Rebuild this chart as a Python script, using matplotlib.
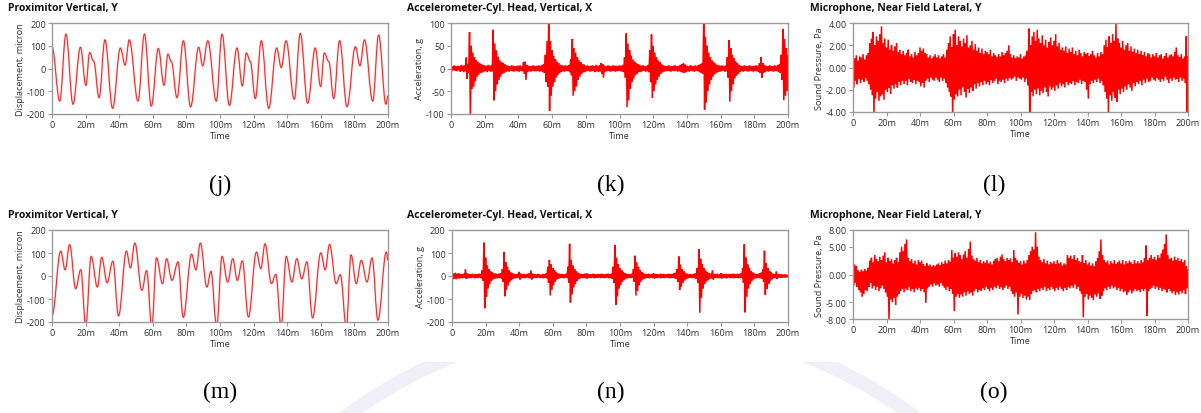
"""Compressor time records in two operating states: proximitor displacement,
cylinder-head acceleration and near-field sound pressure over 200 ms.

Writes:
  out.png
"""
from __future__ import annotations
import numpy as np
import matplotlib
matplotlib.use("Agg")
import matplotlib.pyplot as plt
from matplotlib.path import Path
from matplotlib.patches import PathPatch, Ellipse, Rectangle

W, H, DPI = 1201, 414, 100
OUT = "out.png"

# proximitor turning points (time in ms, displacement in micron)
prox_j_t = [0, 4.6, 8.3, 12.5, 16.9, 20.2, 22.4, 24.8, 28.0, 31.5, 36.1, 40.7, 43.5,
            46.0, 51.2, 55.0, 59.1, 63.3, 66.7, 69.0, 71.0, 74.4, 78.2, 82.5, 87.3,
            89.7, 92.7, 97.8, 101.2, 105.6, 110.1, 113.3, 115.7, 118.0, 121.0, 124.6,
            129.0, 133.7, 136.5, 139.3, 144.2, 147.8, 152.2, 156.7, 159.9, 162.1,
            164.7, 167.7, 171.2, 175.6, 180.6, 183.3, 186.0, 190.9, 194.4, 198.8, 200]
prox_j_v = [95, -143, 151, -157, 93, -74, 70, 32, -128, 126, -175, 90, 15,
            126, -143, 151, -165, 88, -74, 63, 31, -128, 122, -168, 93,
            12, 122, -143, 151, -162, 90, -76, 68, 31, -132, 122,
            -175, 90, 4, 122, -135, 154, -153, 90, -79, 68,
            31, -132, 122, -168, 96, 12, 126, -143, 147, -157, -120]

prox_m_t = [0, 5.2, 7.8, 10.5, 14.1, 17.1, 20.1, 23.3, 27.0, 29.6, 32.8, 36.2, 39.6,
            44.3, 46.7, 49.3, 53.5, 56.3, 59.4, 62.2, 65.8, 68.2, 71.4, 75.0, 78.1,
            83.1, 85.7, 88.3, 92.2, 94.6, 98.0, 101.2, 104.6, 107.6, 110.3, 113.3,
            116.9, 121.7, 124.3, 126.8, 130.6, 133.2, 136.4, 139.4, 142.8, 145.7,
            148.7, 151.7, 155.1, 160.0, 162.6, 165.2, 169.2, 171.6, 175.2, 178.0,
            181.1, 184.1, 187.5, 190.5, 194.0, 199.0, 200]
prox_m_v = [-172, 108, 27, 136, -55, 27, -215, 85, -48, 81, -29, 64, -173,
            108, 35, 143, -62, 23, -220, 79, -33, 75, -19, 61, -180,
            95, 27, 143, -48, 20, -220, 85, -26, 75, -19, 66,
            -178, 104, 32, 140, -33, 7, -220, 85, -26, 75,
            -12, 61, -182, 101, 27, 137, -33, 6, -220, 92,
            -33, 68, -26, 78, -192, 104, 68]

# min/max envelopes sampled every 1 ms, 0..200 ms
env_t = np.arange(0, 201)

accel_k_hi = [6, 5, 7, 5, 6, 5, 8, 6, 7, 24,
              10, 80, 50, 35, 25, 18, 15, 12, 10, 8,
              7, 6, 8, 6, 7, 85, 55, 40, 26, 18,
              14, 12, 10, 7, 6, 5, 7, 6, 5, 6,
              6, 7, 5, 14, 15, 8, 6, 5, 6, 7,
              5, 6, 7, 6, 8, 10, 30, 60, 115, 60,
              40, 28, 20, 15, 12, 8, 7, 6, 7, 6,
              8, 20, 65, 45, 35, 25, 18, 14, 10, 9,
              6, 7, 5, 6, 7, 5, 8, 6, 7, 12,
              10, 6, 5, 7, 6, 5, 7, 6, 6, 5,
              7, 6, 8, 25, 77, 55, 40, 28, 20, 15,
              12, 9, 8, 6, 7, 5, 6, 8, 40, 75,
              50, 35, 25, 18, 14, 10, 7, 6, 5, 7,
              6, 5, 6, 7, 5, 6, 8, 10, 12, 9,
              6, 5, 7, 6, 5, 7, 6, 8, 10, 12,
              115, 70, 50, 35, 25, 18, 14, 11, 8, 7,
              6, 7, 5, 7, 25, 62, 45, 30, 22, 16,
              12, 8, 6, 5, 7, 6, 5, 7, 6, 5,
              6, 7, 6, 12, 25, 12, 8, 6, 5, 7,
              6, 5, 7, 6, 8, 10, 30, 87, 65, 45,
              30]
accel_k_lo = [-6, -4, -5, -6, -4, -7, -5, -8, -6, -23,
              -10, -110, -45, -40, -28, -18, -14, -10, -9, -7,
              -6, -8, -5, -7, -6, -70, -50, -35, -25, -18,
              -12, -10, -8, -6, -7, -5, -6, -7, -5, -6,
              -7, -5, -6, -12, -25, -8, -6, -7, -5, -6,
              -6, -5, -7, -6, -8, -10, -30, -40, -93, -60,
              -40, -30, -20, -14, -10, -8, -6, -7, -5, -6,
              -8, -15, -60, -50, -40, -25, -18, -12, -9, -8,
              -6, -5, -7, -6, -5, -7, -6, -8, -6, -12,
              -20, -7, -6, -5, -7, -6, -5, -7, -6, -5,
              -6, -7, -8, -20, -85, -70, -45, -30, -22, -15,
              -12, -8, -8, -6, -5, -7, -6, -8, -30, -65,
              -50, -35, -25, -18, -12, -9, -7, -6, -5, -6,
              -7, -5, -6, -5, -7, -6, -8, -9, -10, -8,
              -6, -7, -5, -6, -7, -5, -6, -8, -10, -12,
              -90, -75, -50, -35, -25, -18, -13, -10, -8, -7,
              -6, -5, -7, -6, -20, -73, -50, -35, -22, -16,
              -12, -8, -6, -7, -5, -6, -7, -5, -6, -7,
              -5, -6, -7, -10, -20, -10, -8, -6, -7, -5,
              -6, -7, -5, -6, -8, -10, -25, -70, -60, -50,
              -30]

accel_n_hi = [15, 12, 14, 10, 12, 9, 8, 10, 30, 12,
              9, 8, 10, 7, 9, 8, 10, 9, 25, 145,
              80, 45, 30, 20, 15, 12, 10, 9, 11, 12,
              30, 105, 60, 40, 25, 18, 12, 9, 8, 10,
              18, 10, 8, 9, 7, 10, 12, 25, 10, 8,
              7, 9, 8, 6, 9, 8, 12, 40, 70, 50,
              35, 25, 18, 12, 10, 8, 9, 7, 10, 40,
              140, 70, 45, 30, 20, 14, 10, 9, 8, 10,
              12, 9, 7, 8, 10, 8, 7, 9, 8, 10,
              8, 7, 9, 10, 8, 12, 40, 135, 80, 50,
              35, 25, 18, 12, 10, 9, 8, 10, 30, 88,
              60, 40, 25, 18, 12, 9, 8, 10, 7, 9,
              12, 9, 8, 7, 10, 8, 9, 7, 8, 10,
              8, 9, 12, 15, 30, 85, 50, 30, 20, 14,
              10, 8, 9, 7, 10, 12, 35, 117, 75, 50,
              35, 25, 18, 12, 10, 25, 9, 8, 10, 7,
              12, 9, 8, 10, 7, 9, 8, 10, 9, 8,
              10, 9, 12, 35, 138, 80, 50, 35, 22, 15,
              10, 8, 9, 12, 15, 30, 110, 55, 35, 22,
              15, 10, 8, 20, 9, 7, 8, 6, 7, 6,
              5]
accel_n_lo = [-15, -12, -14, -10, -11, -9, -10, -8, -12, -10,
              -8, -9, -7, -10, -8, -9, -7, -10, -20, -140,
              -90, -55, -35, -22, -15, -12, -10, -9, -8, -11,
              -25, -88, -60, -40, -25, -18, -12, -10, -9, -8,
              -15, -9, -8, -10, -7, -9, -10, -15, -8, -9,
              -8, -7, -9, -8, -10, -8, -10, -30, -85, -60,
              -40, -25, -15, -12, -9, -8, -10, -7, -9, -30,
              -115, -80, -50, -35, -22, -14, -10, -9, -8, -10,
              -12, -8, -9, -7, -10, -9, -8, -7, -9, -8,
              -9, -8, -7, -10, -9, -12, -30, -125, -90, -55,
              -40, -25, -18, -12, -10, -8, -9, -7, -25, -85,
              -65, -40, -25, -16, -12, -9, -8, -10, -7, -9,
              -12, -8, -9, -7, -10, -8, -9, -7, -8, -10,
              -9, -8, -10, -12, -25, -60, -45, -30, -20, -14,
              -10, -8, -9, -7, -10, -12, -30, -160, -95, -55,
              -35, -25, -18, -12, -10, -15, -9, -8, -10, -7,
              -12, -8, -9, -10, -7, -9, -8, -10, -9, -8,
              -10, -9, -8, -30, -158, -90, -55, -35, -22, -15,
              -10, -9, -8, -10, -12, -25, -82, -55, -35, -22,
              -15, -10, -9, -12, -8, -7, -8, -6, -7, -6,
              -5]

mic_l_hi = [1.0, 0.8, 1.1, 0.6, 1.0, 0.9, 1.2, 0.7, 1.1, 1.3,
            2.2, 2.6, 3.2, 2.0, 2.8, 2.4, 3.0, 3.7, 2.2, 2.6,
            1.8, 2.5, 1.6, 2.0, 1.5, 1.9, 2.2, 1.4, 1.6, 1.2,
            1.5, 1.1, 1.3, 1.6, 1.0, 1.2, 0.9, 1.4, 1.1, 1.3,
            1.8, 1.5, 1.7, 1.3, 1.2, 0.9, 1.1, 0.8, 1.0, 1.2,
            0.9, 1.1, 0.8, 1.0, 1.2, 0.9, 1.6, 2.2, 2.8, 1.8,
            3.0, 3.4, 2.0, 2.8, 2.4, 1.9, 2.6, 2.2, 2.9, 1.8,
            2.0, 2.4, 1.6, 2.1, 1.5, 1.8, 1.3, 1.7, 1.2, 1.5,
            1.4, 1.2, 1.6, 1.0, 1.3, 1.1, 0.9, 1.2, 1.0, 1.4,
            1.1, 1.3, 1.5, 2.0, 1.2, 0.9, 1.1, 0.8, 1.0, 0.9,
            1.2, 0.8, 1.0, 1.1, 1.5, 3.5, 2.0, 2.8, 3.2, 2.4,
            3.4, 2.6, 2.2, 2.9, 2.0, 2.5, 1.8, 2.3, 2.7, 2.0,
            2.4, 3.0, 1.9, 2.2, 1.6, 1.8, 1.5, 1.9, 1.3, 1.7,
            1.4, 1.8, 1.2, 1.5, 1.1, 1.6, 1.3, 1.0, 1.4, 1.2,
            1.3, 1.0, 1.2, 1.5, 1.1, 0.9, 1.3, 1.0, 1.4, 1.2,
            2.0, 2.5, 1.8, 2.8, 2.2, 3.0, 2.4, 4.1, 2.6, 2.2,
            1.8, 2.4, 1.6, 2.0, 2.2, 1.5, 1.9, 1.4, 1.7, 1.3,
            1.6, 1.2, 1.5, 1.1, 1.4, 1.0, 1.3, 1.2, 0.9, 1.2,
            1.0, 1.3, 0.9, 1.1, 1.2, 0.8, 1.0, 1.3, 0.9, 1.1,
            1.2, 1.0, 1.4, 1.8, 1.1, 0.9, 1.2, 0.8, 1.0, 2.8,
            1.0]
mic_l_lo = [-1.8, -1.2, -1.5, -1.0, -1.4, -1.1, -1.3, -0.9, -1.2, -1.5,
            -2.0, -2.5, -4.2, -2.8, -2.2, -3.0, -2.6, -2.4, -2.9, -2.0,
            -2.2, -1.8, -2.4, -1.6, -1.9, -1.5, -1.8, -1.3, -1.6, -1.2,
            -1.5, -1.2, -1.6, -1.0, -1.3, -1.4, -1.1, -1.5, -1.2, -1.3,
            -1.7, -1.4, -1.8, -1.2, -1.0, -1.3, -0.9, -1.1, -1.2, -0.9,
            -1.1, -1.3, -0.9, -1.2, -1.0, -1.4, -1.8, -2.2, -2.6, -4.2,
            -2.9, -2.4, -2.6, -2.0, -2.5, -1.8, -2.2, -2.7, -1.9, -2.3,
            -1.8, -2.1, -1.5, -1.9, -1.4, -1.7, -1.3, -1.6, -1.2, -1.5,
            -1.3, -1.6, -1.1, -1.4, -1.2, -1.0, -1.5, -1.2, -1.3, -1.1,
            -1.4, -1.0, -1.2, -0.9, -1.1, -1.0, -0.8, -1.2, -0.9, -1.0,
            -1.1, -0.9, -1.3, -1.0, -1.6, -4.2, -2.2, -2.6, -2.0, -2.4,
            -1.9, -2.5, -2.1, -2.3, -1.8, -2.2, -2.6, -1.7, -2.0, -1.8,
            -2.1, -1.6, -1.9, -1.4, -1.7, -1.5, -1.8, -1.3, -1.6, -1.4,
            -1.5, -1.2, -1.6, -1.3, -1.4, -1.1, -1.5, -1.2, -1.3, -2.0,
            -2.8, -1.5, -1.2, -1.4, -1.1, -1.3, -1.0, -1.4, -1.2, -1.6,
            -2.2, -2.8, -4.0, -2.5, -3.0, -2.2, -2.7, -3.1, -2.0, -2.4,
            -1.9, -2.2, -1.7, -2.0, -1.5, -1.8, -2.1, -1.4, -1.7, -1.3,
            -1.5, -1.2, -1.6, -1.1, -1.4, -1.0, -1.3, -1.2, -0.9, -1.1,
            -1.2, -0.9, -1.1, -1.3, -1.0, -1.2, -0.8, -1.1, -1.4, -1.0,
            -1.2, -0.9, -1.1, -1.0, -1.3, -0.9, -1.2, -1.0, -1.4, -4.2,
            -1.0]

mic_o_hi = [2.0, 1.8, 1.5, 0.8, 0.5, 0.9, 0.6, 1.0, 0.7, 1.2,
            2.5, 3.0, 2.2, 3.5, 2.8, 2.4, 3.2, 2.6, 3.4, 4.0,
            2.2, 3.0, 2.4, 2.8, 2.0, 2.6, 3.0, 2.2, 4.0, 5.0,
            4.2, 5.5, 6.3, 3.0, 2.4, 2.8, 2.0, 2.5, 1.8, 2.6,
            2.2, 2.5, 1.9, 1.5, 2.0, 1.6, 1.8, 1.4, 1.7, 1.5,
            1.8, 2.0, 1.6, 2.2, 1.9, 2.5, 2.0, 2.6, 2.3, 4.4,
            3.0, 3.8, 3.2, 4.0, 3.5, 2.8, 3.6, 4.2, 3.0, 4.6,
            5.9, 3.4, 2.8, 2.5, 3.0, 2.2, 2.6, 2.0, 2.4, 2.1,
            2.6, 2.0, 2.3, 1.8, 2.5, 2.8, 3.0, 2.4, 3.2, 3.6,
            2.8, 2.4, 3.0, 2.6, 2.9, 2.2, 4.4, 3.0, 2.5, 2.0,
            2.4, 1.8, 2.5, 2.0, 2.6, 3.5, 4.2, 5.0, 4.5, 7.6,
            5.0, 3.2, 2.6, 2.2, 2.8, 2.0, 2.5, 1.8, 2.3, 2.0,
            2.4, 1.9, 2.6, 2.0, 2.2, 1.6, 2.0, 1.8, 3.5, 3.0,
            3.4, 2.8, 3.5, 2.6, 3.0, 2.4, 2.2, 3.5, 2.0, 2.6,
            1.8, 2.2, 1.6, 2.0, 1.5, 2.4, 3.0, 4.2, 6.3, 3.5,
            2.6, 2.2, 2.5, 1.8, 2.4, 2.0, 2.6, 1.9, 2.2, 2.5,
            2.0, 2.6, 1.8, 2.4, 2.0, 2.5, 2.2, 1.9, 2.6, 2.0,
            2.4, 2.0, 2.6, 2.2, 3.0, 5.2, 2.5, 3.0, 3.5, 2.8,
            3.2, 2.6, 3.5, 3.0, 3.8, 4.5, 5.5, 7.2, 3.5, 2.8,
            3.0, 2.5, 3.2, 2.6, 3.0, 2.4, 2.8, 2.2, 2.6, 1.5,
            1.0]
mic_o_lo = [-2.0, -1.5, -2.2, -2.8, -3.2, -4.0, -3.5, -2.8, -3.0, -2.2,
            -1.5, -2.5, -2.0, -2.8, -2.2, -3.0, -2.5, -2.0, -2.6, -3.2,
            -4.0, -8.5, -4.5, -5.0, -4.2, -5.5, -4.0, -3.5, -3.0, -2.6,
            -3.2, -2.5, -2.8, -2.2, -3.0, -2.6, -3.2, -2.5, -2.8, -2.4,
            -3.0, -2.6, -3.2, -5.1, -2.5, -2.2, -1.8, -2.2, -1.6, -2.0,
            -1.8, -2.2, -1.5, -2.0, -2.4, -2.8, -2.2, -3.0, -2.6, -3.5,
            -6.6, -4.0, -3.5, -4.2, -3.6, -4.0, -3.2, -3.8, -3.0, -3.5,
            -3.2, -3.8, -3.0, -2.6, -3.2, -2.8, -3.0, -2.5, -2.8, -2.2,
            -2.6, -3.0, -2.4, -2.8, -2.2, -2.5, -2.0, -2.6, -2.3, -2.8,
            -2.4, -2.0, -2.6, -2.2, -3.0, -3.5, -4.0, -3.2, -7.2, -4.0,
            -3.5, -4.2, -3.8, -4.5, -4.0, -4.6, -3.5, -3.0, -2.8, -3.2,
            -2.6, -3.0, -2.4, -2.8, -2.2, -3.0, -2.5, -2.8, -2.2, -2.6,
            -3.0, -2.4, -2.8, -2.2, -2.6, -3.0, -2.4, -2.8, -2.2, -2.5,
            -2.0, -2.4, -1.8, -2.6, -2.2, -3.0, -3.5, -7.7, -4.0, -3.5,
            -4.5, -3.8, -4.2, -4.6, -3.6, -4.0, -3.4, -4.4, -3.8, -3.0,
            -2.5, -2.8, -2.2, -2.6, -2.0, -2.5, -2.2, -2.8, -2.4, -3.0,
            -2.6, -3.2, -3.0, -3.7, -3.2, -2.8, -3.4, -3.0, -2.6, -3.0,
            -2.8, -3.2, -2.6, -3.0, -2.5, -7.4, -3.0, -2.6, -2.4, -2.0,
            -2.6, -2.2, -2.8, -2.4, -3.0, -2.6, -2.8, -3.2, -2.6, -3.0,
            -3.4, -3.0, -3.7, -3.2, -3.6, -3.0, -3.4, -2.8, -3.5, -2.5,
            -2.0]

time_ticks = [0, 20, 40, 60, 80, 100, 120, 140, 160, 180, 200]
time_labels = ["0"] + [f"{v}m" for v in time_ticks[1:]]

TITLES = ["Proximitor Vertical, Y", "Accelerometer-Cyl. Head, Vertical, X",
          "Microphone, Near Field Lateral, Y"]
CAPTIONS = [["(j)", "(k)", "(l)"], ["(m)", "(n)", "(o)"]]

# panel frames in pixels: left, top, right, bottom
BOXES = [[(52, 24, 388, 115), (451, 24, 788, 115), (853, 24, 1188, 113)],
         [(52, 231, 388, 323), (452, 231, 788, 323), (853, 231, 1188, 320)]]
TITLE_X = [8, 407, 810]
TITLE_Y = [9, 216]
CAP_X = [220, 611, 994]
CAP_Y = [185, 392]

RED = "#ff0000"
FRAME = "#9c9c9c"


def smooth_path(t, v, k=0.38):
    """Cubic segments between turning points, flat tangent at each point."""
    verts = [(t[0], v[0])]
    codes = [Path.MOVETO]
    for t0, v0, t1, v1 in zip(t[:-1], v[:-1], t[1:], v[1:]):
        d = (t1 - t0) * k
        verts += [(t0 + d, v0), (t1 - d, v1), (t1, v1)]
        codes += [Path.CURVE4] * 3
    return Path(verts, codes)


def style_axes(ax, yticks, ylabels, ylabel):
    ax.set_xlim(0, 200)
    ax.set_ylim(yticks[0], yticks[-1])
    ax.set_xticks(time_ticks)
    ax.set_xticklabels(time_labels)
    ax.set_yticks(yticks)
    ax.set_yticklabels(ylabels)
    ax.tick_params(direction="out", length=3, width=0.8, color=FRAME,
                   labelsize=6.6, labelcolor="#333333", pad=1.5)
    for sp in ax.spines.values():
        sp.set_color(FRAME)
        sp.set_linewidth(1.0)
    ax.set_xlabel("Time", fontsize=6.6, color="#333333", labelpad=1.5)
    ax.set_ylabel(ylabel, fontsize=6.6, color="#333333", labelpad=1.5)


def draw_prox(ax, t, v):
    path = smooth_path(t, v)
    ax.add_patch(PathPatch(path, fill=False, edgecolor="#ffbcbc", lw=1.5))
    ax.add_patch(PathPatch(path, fill=False, edgecolor="#ee1414", lw=0.6))
    style_axes(ax, [-200, -100, 0, 100, 200], ["-200", "-100", "0", "100", "200"],
               "Displacement, micron")


def draw_env(ax, lo, hi):
    # each 1 ms bin traced max -> min, like a decimated waveform display
    x = np.column_stack((env_t, env_t + 0.5)).ravel()
    y = np.column_stack((hi, lo)).ravel()
    ax.plot(x, y, color=RED, lw=1.1, solid_joinstyle="miter")


def main():
    plt.rcParams["font.family"] = ["Open Sans", "DejaVu Sans"]
    fig = plt.figure(figsize=(W / DPI, H / DPI), dpi=DPI)
    fig.patch.set_facecolor("white")

    # faint seal printed on the page, visible only below the lower panels
    clip = Rectangle((0, 0), 1, 1 - 363 / H, transform=fig.transFigure)
    ring = Ellipse((630 / W, 1 - 797 / H), 2 * 474 / W, 2 * 474 / H,
                   transform=fig.transFigure, fill=False, edgecolor="#f1eff8",
                   lw=10, zorder=0)
    ring.set_clip_path(clip)
    fig.add_artist(ring)

    axes = []
    for r in range(2):
        row = []
        for c in range(3):
            x0, y0, x1, y1 = BOXES[r][c]
            ax = fig.add_axes([x0 / W, 1 - y1 / H, (x1 - x0) / W, (y1 - y0) / H])
            row.append(ax)
            fig.text(TITLE_X[c] / W, 1 - TITLE_Y[r] / H, TITLES[c], fontsize=7.5,
                     fontweight="bold", ha="left", va="center", color="#111111")
            fig.text(CAP_X[c] / W, 1 - CAP_Y[r] / H, CAPTIONS[r][c], fontsize=17,
                     family="Liberation Serif", ha="center", va="center")
        axes.append(row)

    draw_prox(axes[0][0], prox_j_t, prox_j_v)
    draw_prox(axes[1][0], prox_m_t, prox_m_v)

    draw_env(axes[0][1], accel_k_lo, accel_k_hi)
    style_axes(axes[0][1], [-100, -50, 0, 50, 100], ["-100", "-50", "0", "50", "100"],
               "Acceleration, g")
    draw_env(axes[1][1], accel_n_lo, accel_n_hi)
    style_axes(axes[1][1], [-200, -100, 0, 100, 200], ["-200", "-100", "0", "100", "200"],
               "Acceleration, g")

    draw_env(axes[0][2], mic_l_lo, mic_l_hi)
    style_axes(axes[0][2], [-4, -2, 0, 2, 4], ["-4.00", "-2.00", "0.00", "2.00", "4.00"],
               "Sound Pressure, Pa")
    draw_env(axes[1][2], mic_o_lo, mic_o_hi)
    style_axes(axes[1][2], [-8, -5, 0, 5, 8], ["-8.00", "-5.00", "0.00", "5.00", "8.00"],
               "Sound Pressure, Pa")

    fig.savefig(OUT, dpi=DPI, facecolor="white")
    plt.close(fig)


if __name__ == "__main__":
    main()
